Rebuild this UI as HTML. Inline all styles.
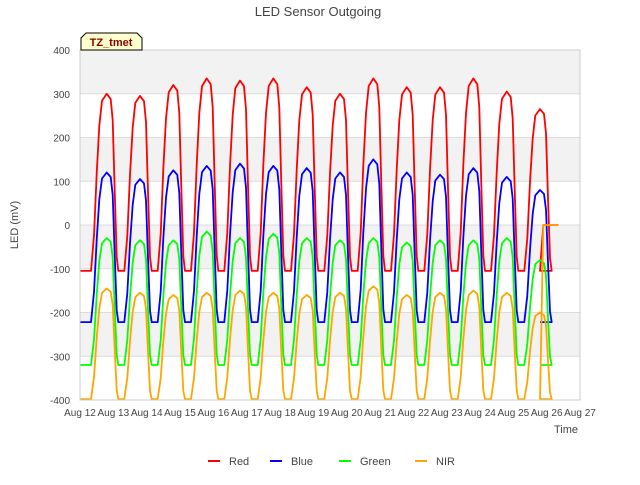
<!DOCTYPE html>
<html><head><meta charset="utf-8"><style>
body{margin:0;background:#fff;font-family:"Liberation Sans",sans-serif}
svg text{font-family:"Liberation Sans",sans-serif}
</style></head><body>
<svg id="chart" width="640" height="480" xmlns="http://www.w3.org/2000/svg">
<rect width="640" height="480" fill="#fff"/>
<g id="bands"></g>
<g id="grid"></g>
<g id="series"></g>
<g id="axes"></g>
<text x="318" y="16" text-anchor="middle" font-size="13" fill="#444">LED Sensor Outgoing</text>
<text transform="translate(18,225) rotate(-90)" text-anchor="middle" font-size="11" fill="#444">LED (mV)</text>
<text x="566" y="433" text-anchor="middle" font-size="11" fill="#444">Time</text>
<g>
<path d="M81,50 L81,38 L86,33 L137,33 L142,38 L142,50 Z" fill="#ffffcc" stroke="#000" stroke-width="1"/>
<text x="111" y="46" text-anchor="middle" font-size="11" font-weight="bold" fill="#8b0000">TZ_tmet</text>
</g>
<g id="legend"></g>
</svg>
<script>
const yTicks=[400,300,200,100,0,-100,-200,-300,-400];
const xTickLabels=["Aug 12","Aug 13","Aug 14","Aug 15","Aug 16","Aug 17","Aug 18","Aug 19","Aug 20","Aug 21","Aug 22","Aug 23","Aug 24","Aug 25","Aug 26","Aug 27"];
const redPeaks=[300,295,320,335,330,335,315,300,335,315,315,335,305,265];
const bluePeaks=[120,105,125,135,140,135,130,120,150,120,115,130,110,80];
const greenPeaks=[-30,-35,-35,-15,-30,-20,-30,-35,-30,-40,-35,-35,-30,-80];
const nirPeaks=[-145,-155,-160,-155,-150,-155,-160,-155,-140,-160,-155,-150,-155,-200];
const redBase=-105, blueBase=-222, greenBase=-320, nirBase=-398;
const X0=80,X1=580,Y0=50,Y1=400;
const x=d=>X0+(d/15)*(X1-X0);
const y=v=>Y1-(v+400)/800*(Y1-Y0);
const NS="http://www.w3.org/2000/svg";
function mk(tag,attrs,parent){const e=document.createElementNS(NS,tag);for(const k in attrs)e.setAttribute(k,attrs[k]);parent.appendChild(e);return e;}
const bands=document.getElementById('bands'),grid=document.getElementById('grid'),axes=document.getElementById('axes');
for(let i=0;i<8;i++){if(i%2==0){const r=mk('rect',{x:X0,y:y(400-i*100),width:X1-X0,height:y(300-i*100)-y(400-i*100),fill:'#f2f2f2'},bands);

}}
yTicks.forEach(t=>{const l=mk('line',{x1:X0,x2:X1,y1:y(t),y2:y(t),stroke:'#dcdcdc','stroke-width':1},grid);


const tx=mk('text',{x:X0-10,y:y(t)+4,'text-anchor':'end','font-size':10,fill:'#444'},axes);tx.textContent=t;

});
mk('rect',{x:X0,y:Y0,width:X1-X0,height:Y1-Y0,fill:'none',stroke:'#ccc'},axes);
xTickLabels.forEach((s,i)=>{const tx=mk('text',{x:x(i),y:416,'text-anchor':'middle','font-size':10,fill:'#444'},axes);tx.textContent=s;

});
const shapeT=[0,0.33,0.42,0.5,0.58,0.66,0.8,0.92,0.98,1.04,1.1,1.15];
const shapeF=[0,0,0.2,0.55,0.82,0.96,1,0.97,0.85,0.45,0.08,0];
function build(peaks,base,tail){let pts=[];peaks.forEach((p,d)=>{shapeT.forEach((t,j)=>{if(d>0&&j==0)return;pts.push([x(d+t),y(base+(p-base)*shapeF[j])]);});});
const last=peaks.length;pts.push([x(last-0.2),y(base)]);
if(tail){pts.push([x(last-0.1),y(0)]);pts.push([x(last+0.35),y(0)]);}
return pts.map((p,i)=>(i?'L':'M')+p[0].toFixed(1)+','+p[1].toFixed(1)).join(' ');}
const ser=document.getElementById('series');
const defs=[["Red",redPeaks,redBase,"#ff0000",true],["Blue",bluePeaks,blueBase,"#0000ff",false],["Green",greenPeaks,greenBase,"#00ff00",false],["NIR",nirPeaks,nirBase,"#ffa500",true]];
defs.forEach(([n,pk,b,c,tail])=>{const p=mk('path',{d:build(pk,b,tail),fill:'none',stroke:c,'stroke-width':1.8,'stroke-linejoin':'round'},ser);

});
const lg=document.getElementById('legend');let lx=208;
defs.forEach(([n,,,c])=>{const g=mk('g',{},lg);


mk('line',{x1:lx,x2:lx+12,y1:461,y2:461,stroke:c,'stroke-width':2},g);
const t=mk('text',{x:lx+21,y:465,'font-size':11,fill:'#444'},g);t.textContent=n;
lx+=21+n.length*7+20;});
</script>
</body></html>
